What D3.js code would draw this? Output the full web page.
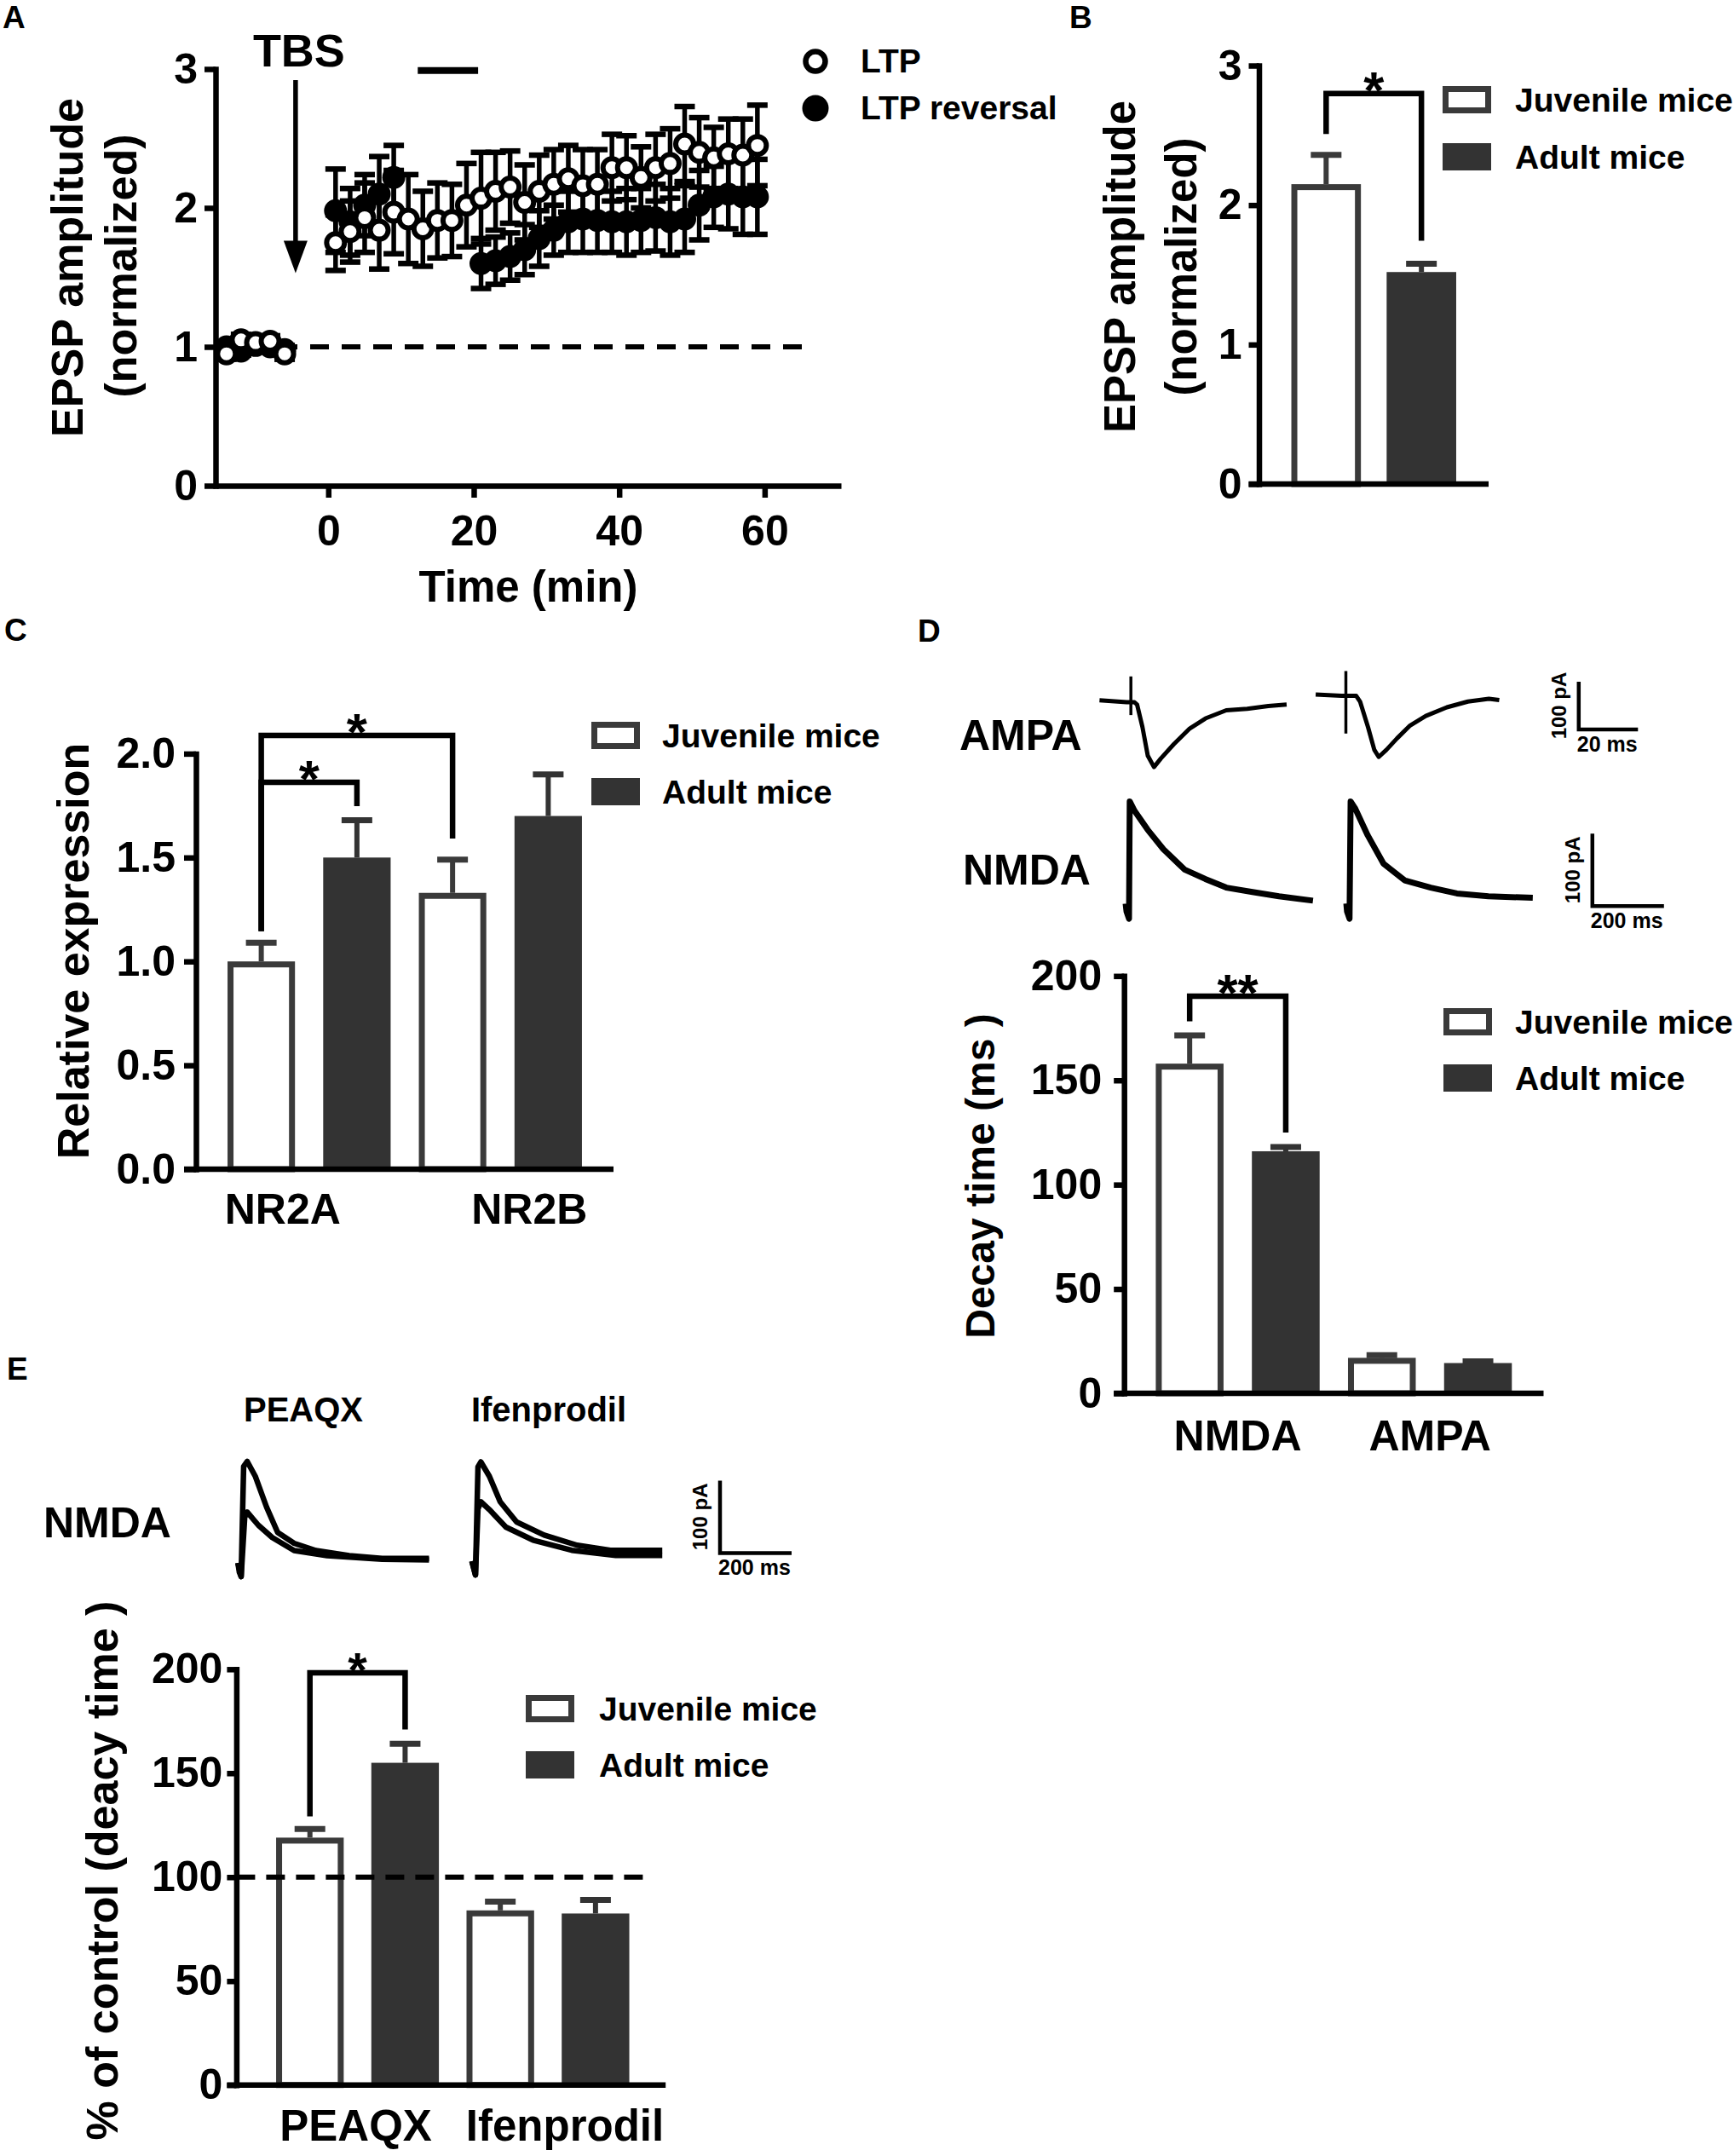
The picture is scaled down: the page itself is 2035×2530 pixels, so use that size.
<!DOCTYPE html>
<html>
<head>
<meta charset="utf-8">
<script src="https://cdn.jsdelivr.net/npm/d3@7"></script>
<style>
body { margin: 0; background: #fff; }
svg text { font-family: "Liberation Sans", Arial, sans-serif; font-weight: bold; }
</style>
</head>
<body>
<div id="chart-area"></div>
<script>
// ---------- data ----------
var seriesNames = ["Juvenile mice", "Adult mice"];

// A: EPSP time course (min, normalized amplitude, SEM)
var ltpTime = [-14, -12, -10, -8, -6, 1, 3, 5, 7, 9, 11, 13, 15, 17, 19, 21, 23, 25, 27, 29, 31, 33, 35, 37, 39, 41, 43, 45, 47, 49, 51, 53, 55, 57, 59];
var ltpValue = [0.95, 1.05, 1.03, 1.04, 0.95, 1.75, 1.83, 1.93, 1.84, 1.97, 1.92, 1.85, 1.91, 1.91, 2.02, 2.07, 2.12, 2.15, 2.04, 2.12, 2.17, 2.21, 2.16, 2.17, 2.29, 2.29, 2.22, 2.29, 2.32, 2.46, 2.40, 2.36, 2.39, 2.38, 2.45];
var ltpErr = [0.04, 0.04, 0.03, 0.04, 0.04, 0.20, 0.22, 0.25, 0.28, 0.30, 0.32, 0.27, 0.27, 0.26, 0.30, 0.33, 0.28, 0.26, 0.27, 0.26, 0.25, 0.24, 0.26, 0.25, 0.24, 0.23, 0.22, 0.24, 0.25, 0.27, 0.25, 0.22, 0.25, 0.26, 0.29];
var revTime = [-14, -12, -10, -8, -6, 1, 3, 5, 7, 9, 21, 23, 25, 27, 29, 31, 33, 35, 37, 39, 41, 43, 45, 47, 49, 51, 53, 55, 57, 59];
var revValue = [1.00, 0.97, 1.01, 1.00, 0.98, 1.98, 1.90, 2.02, 2.10, 2.22, 1.60, 1.62, 1.65, 1.70, 1.78, 1.84, 1.90, 1.92, 1.91, 1.90, 1.90, 1.91, 1.93, 1.90, 1.92, 2.02, 2.08, 2.10, 2.08, 2.08];
var revErr = [0.03, 0.03, 0.03, 0.03, 0.03, 0.30, 0.24, 0.22, 0.27, 0.23, 0.18, 0.17, 0.17, 0.18, 0.20, 0.18, 0.22, 0.24, 0.23, 0.22, 0.24, 0.23, 0.24, 0.24, 0.24, 0.25, 0.22, 0.25, 0.27, 0.27];
var reversalWindow = [12.3, 20.6];
var tbsTime = -4.5;

// B: EPSP amplitude at 60 min
var bValues = [2.15, 1.52];
var bErrors = [0.21, 0.06];

// C: relative expression
var cGenes = ["NR2A", "NR2B"];
var cJuvenile = [1.00, 1.33];
var cAdult = [1.50, 1.70];
var cJuvenileErr = [0.09, 0.16];
var cAdultErr = [0.18, 0.20];

// D: decay time (ms)
var dCurrents = ["NMDA", "AMPA"];
var dJuvenile = [158, 17];
var dAdult = [116, 14.5];
var dJuvenileErr = [13.5, 1.3];
var dAdultErr = [2.0, 0.8];

// E: % of control decay time
var eDrugs = ["PEAQX", "Ifenprodil"];
var eJuvenile = [119, 84];
var eAdult = [155, 82.5];
var eJuvenileErr = [4.2, 4.2];
var eAdultErr = [9.2, 6.5];

// example traces (ms from stimulus, pA)
var ampaJuvT = [-10.6, -1.4, 1.2, 2.1, 3.9, 5.7, 7.8, 10.1, 14.5, 19.9, 25.2, 32.2, 39.3, 46.4, 52.6];
var ampaJuvI = [4, 0, 0, -5, -52, -112, -136, -118, -88, -55, -34, -17, -14, -8, -5];
var ampaAdultT = [-10.2, -1.4, 3.5, 4.8, 7.5, 9.6, 11.1, 13.7, 17.3, 21.7, 27.0, 34.1, 41.2, 48.3, 51.8];
var ampaAdultI = [2, -1, -1, -13, -67, -114, -129, -114, -90, -63, -43, -25, -13, -7, -10];
var ampaArtifact = [[54, -27], [51, -80]];
var nmdaJuvT = [-9.5, -7, 0, 2, 15.5, 52, 96, 155, 213, 272, 345, 419, 514];
var nmdaJuvI = [2, -9, -19, 143, 130, 104, 77, 49, 36, 24, 18, 12, 6];
var nmdaAdultT = [-9, -7, 0, 3, 15, 51, 95, 154, 227, 300, 388, 512];
var nmdaAdultI = [2, -9, -19, 143, 134, 96, 57, 34, 24, 16, 12, 10];
var peaqxAT = [-9, -5, 0, 7, 17, 40, 71, 102, 148, 209, 302, 394, 525];
var peaqxAI = [-7, -20, -26, 126, 133, 112, 70, 35, 20, 10, 3, -1, -1];
var peaqxBT = [-9, 0, 10, 17, 48, 87, 148, 240, 394, 525];
var peaqxBI = [-7, -26, 56, 63, 45, 28, 10, 3, -2, -3];
var ifenAT = [-10, 0, 7, 15, 39, 69, 115, 192, 284, 377, 522];
var ifenAI = [-7, -26, 123, 130, 110, 75, 47, 29, 15, 8, 8];
var ifenBT = [-10, 0, 7, 15, 39, 85, 161, 269, 392, 522];
var ifenBI = [-7, -26, 65, 75, 64, 40, 22, 8, 1, 1];

// ---------- setup ----------
var svg = d3.select("#chart-area").append("svg")
    .attr("width", 2035).attr("height", 2530)
    .style("background", "#fff");

var dark = "#333333", edge = "#3a3a3a", AXW = 6.5;

function styleAxis(g, fs) {
    g.attr("font-family", null).attr("font-size", null);
    g.select(".domain").attr("stroke", "#000").attr("stroke-width", AXW).attr("stroke-linecap", "square");
    g.selectAll(".tick line").attr("stroke", "#000").attr("stroke-width", AXW);
    g.selectAll(".tick text").attr("fill", "#000").attr("font-size", fs);
}

function label(text, x, y, fs, anchor) {
    return svg.append("text").attr("x", x).attr("y", y)
        .attr("font-size", fs).attr("text-anchor", anchor || "start").text(text);
}

function vlabel(text, x, y, fs) {
    return svg.append("text").attr("transform", "translate(" + x + "," + y + ") rotate(-90)")
        .attr("font-size", fs).attr("text-anchor", "middle").text(text);
}

function legendBars(x, y1, y2, tx) {
    svg.append("rect").attr("x", x + 3.5).attr("y", y1 + 3.5).attr("width", 50).attr("height", 25)
        .attr("fill", "#fff").attr("stroke", edge).attr("stroke-width", 7);
    svg.append("rect").attr("x", x).attr("y", y2).attr("width", 57).attr("height", 32).attr("fill", dark);
    label(seriesNames[0], tx, y1 + 30, 39);
    label(seriesNames[1], tx, y2 + 30, 39);
}

function star(text, x, yTop, fs) {
    label(text, x, yTop + 17, fs || 62, "middle");
}

// generic bar chart: rows = [{key, series, v, e}]
function barChart(cfg) {
    var y = d3.scaleLinear().domain(cfg.yDomain).range(cfg.yRange);
    var x = d3.scaleBand().domain(cfg.rows.map(function(d){ return d.key; }))
        .range(cfg.bandRange).paddingInner(cfg.pi).paddingOuter(cfg.po);

    var gy = svg.append("g").attr("transform", "translate(" + cfg.axisX + ",0)")
        .call(d3.axisLeft(y).tickValues(cfg.ticks).tickFormat(cfg.fmt)
            .tickSize(cfg.tickLen).tickSizeOuter(0).tickPadding(cfg.pad));
    styleAxis(gy, 50);

    cfg.rows.forEach(function(d) {
        var cx = x(d.key) + x.bandwidth() / 2;
        var col = d.series === 0 ? edge : dark;
        // error bar (upper only)
        svg.append("line").attr("x1", cx).attr("x2", cx)
            .attr("y1", y(d.v)).attr("y2", y(d.v + d.e))
            .attr("stroke", col).attr("stroke-width", 6);
        svg.append("line").attr("x1", cx - 18).attr("x2", cx + 18)
            .attr("y1", y(d.v + d.e)).attr("y2", y(d.v + d.e))
            .attr("stroke", col).attr("stroke-width", 7);
        if (d.series === 0) {
            svg.append("rect").attr("x", x(d.key) + 3.5).attr("y", y(d.v) + 3.5)
                .attr("width", x.bandwidth() - 7).attr("height", y(0) - y(d.v) - 3.5)
                .attr("fill", "#fff").attr("stroke", edge).attr("stroke-width", 7);
        } else {
            svg.append("rect").attr("x", x(d.key)).attr("y", y(d.v))
                .attr("width", x.bandwidth()).attr("height", y(0) - y(d.v))
                .attr("fill", dark);
        }
    });
    // x axis line over bar bottoms
    svg.append("line").attr("x1", cfg.axisX - cfg.tickLen).attr("x2", cfg.axisEnd)
        .attr("y1", y(0)).attr("y2", y(0)).attr("stroke", "#000").attr("stroke-width", AXW);

    var cx = function(key) { return x(key) + x.bandwidth() / 2; };
    (cfg.brackets || []).forEach(function(b) {
        var x1 = cx(b.from), x2 = cx(b.to);
        svg.append("path")
            .attr("d", "M" + x1 + "," + y(b.leftEnd) + "V" + y(b.top) + "H" + x2 + "V" + y(b.rightEnd))
            .attr("fill", "none").attr("stroke", "#000").attr("stroke-width", 6.5);
        star(b.text, (x1 + x2) / 2, y(b.top), b.fs);
    });
    return {x: x, y: y, cx: cx};
}

function rowsOf(groups, juv, adult, juvErr, adultErr) {
    var rows = [];
    groups.forEach(function(g, i) {
        rows.push({key: g + "|0", group: g, series: 0, v: juv[i], e: juvErr[i]});
        rows.push({key: g + "|1", group: g, series: 1, v: adult[i], e: adultErr[i]});
    });
    return rows;
}

// ---------- panel letters ----------
label("A", 3, 33, 37);
label("B", 1255, 33, 37);
label("C", 5, 752, 37);
label("D", 1077, 753, 37);
label("E", 8, 1619, 37);

// ---------- A ----------
var xA = d3.scaleLinear().domain([-15.5, 70.5]).range([253, 987]);
var yA = d3.scaleLinear().domain([0, 3]).range([570, 81]);

var gAy = svg.append("g").attr("transform", "translate(253,0)")
    .call(d3.axisLeft(yA).tickValues([0, 1, 2, 3]).tickFormat(d3.format("d"))
        .tickSize(13).tickSizeOuter(0).tickPadding(8));
styleAxis(gAy, 50);
var gAx = svg.append("g").attr("transform", "translate(0,570)")
    .call(d3.axisBottom(xA).tickValues([0, 20, 40, 60]).tickFormat(d3.format("d"))
        .tickSize(14).tickSizeOuter(0).tickPadding(20));
styleAxis(gAx, 50);
gAx.select(".domain").attr("stroke-linecap", "butt");

// baseline reference
svg.append("line").attr("x1", xA(-15.5)).attr("x2", xA(66.5))
    .attr("y1", yA(1)).attr("y2", yA(1))
    .attr("stroke", "#000").attr("stroke-width", 6).attr("stroke-dasharray", "22,15");

// reversal stimulation bar
svg.append("line").attr("x1", xA(reversalWindow[0])).attr("x2", xA(reversalWindow[1]))
    .attr("y1", yA(2.99)).attr("y2", yA(2.99)).attr("stroke", "#000").attr("stroke-width", 8);

// TBS arrow
label("TBS", xA(tbsTime) + 4, 78, 54, "middle");
svg.append("line").attr("x1", xA(tbsTime)).attr("x2", xA(tbsTime))
    .attr("y1", 94).attr("y2", yA(1.53) - 30).attr("stroke", "#000").attr("stroke-width", 5.5);
svg.append("path")
    .attr("d", "M" + (xA(tbsTime) - 14) + "," + (yA(1.53) - 38) + "L" + (xA(tbsTime) + 14) + "," + (yA(1.53) - 38) +
        "L" + xA(tbsTime) + "," + yA(1.53) + "Z")
    .attr("fill", "#000");

function timeCourse(times, vals, errs, filled) {
    var pts = times.map(function(t, i) { return {t: t, v: vals[i], e: errs[i]}; });
    var g = svg.append("g");
    pts.forEach(function(d) {
        var cxp = xA(d.t);
        g.append("line").attr("x1", cxp).attr("x2", cxp)
            .attr("y1", yA(d.v - d.e)).attr("y2", yA(d.v + d.e))
            .attr("stroke", "#000").attr("stroke-width", 5.5);
        [d.v - d.e, d.v + d.e].forEach(function(c) {
            g.append("line").attr("x1", cxp - 12).attr("x2", cxp + 12)
                .attr("y1", yA(c)).attr("y2", yA(c))
                .attr("stroke", "#000").attr("stroke-width", 6.5);
        });
    });
    g.selectAll("circle").data(pts).enter().append("circle")
        .attr("cx", function(d) { return xA(d.t); })
        .attr("cy", function(d) { return yA(d.v); })
        .attr("r", filled ? 13.5 : 10.5)
        .attr("fill", filled ? "#000" : "#fff")
        .attr("stroke", "#000").attr("stroke-width", filled ? 0 : 6);
}
timeCourse(revTime, revValue, revErr, true);
timeCourse(ltpTime, ltpValue, ltpErr, false);

// legend A
svg.append("circle").attr("cx", 957).attr("cy", 72).attr("r", 11.5)
    .attr("fill", "#fff").attr("stroke", "#000").attr("stroke-width", 6.5);
svg.append("circle").attr("cx", 957).attr("cy", 127).attr("r", 15.5).attr("fill", "#000");
label("LTP", 1010, 85, 39);
label("LTP reversal", 1010, 140, 39);

vlabel("EPSP amplitude", 97, 314, 52);
vlabel("(normalized)", 160, 312, 52);
label("Time (min)", 620, 706, 51, "middle");

// ---------- B ----------
var bRows = bValues.map(function(v, i) { return {key: seriesNames[i], series: i, v: v, e: bErrors[i]}; });
barChart({
    rows: bRows, yDomain: [0, 3], yRange: [568, 77], ticks: [0, 1, 2, 3], fmt: d3.format("d"),
    axisX: 1477.5, axisEnd: 1747, bandRange: [1477.5, 1747], pi: 0.27, po: 0.34,
    tickLen: 12, pad: 8,
    brackets: [{from: seriesNames[0], to: seriesNames[1], top: 2.80, leftEnd: 2.51, rightEnd: 1.745, text: "*"}]
});
vlabel("EPSP amplitude", 1332, 313, 51);
vlabel("(normalized)", 1404, 313, 51);
legendBars(1693, 101, 168, 1778);

// ---------- C ----------
var cRows = rowsOf(cGenes, cJuvenile, cAdult, cJuvenileErr, cAdultErr);
var cChart = barChart({
    rows: cRows, yDomain: [0, 2], yRange: [1372, 884.4], ticks: [0, 0.5, 1, 1.5, 2], fmt: d3.format(".1f"),
    axisX: 230, axisEnd: 720, bandRange: [230, 720], pi: 0.295, po: 0.33,
    tickLen: 14, pad: 10,
    brackets: [
        {from: "NR2A|0", to: "NR2B|0", top: 2.088, leftEnd: 1.145, rightEnd: 1.591, text: "*"},
        {from: "NR2A|0", to: "NR2A|1", top: 1.862, leftEnd: 1.145, rightEnd: 1.747, text: "*"}
    ]
});
var cLabelShift = [-31, 34];
cGenes.forEach(function(g, i) {
    var gc = (cChart.cx(g + "|0") + cChart.cx(g + "|1")) / 2;
    label(g, gc + cLabelShift[i], 1436, 50, "middle");
});
vlabel("Relative expression", 104, 1116, 52);
legendBars(694, 847, 913, 777);

// ---------- D ----------
var dRows = rowsOf(dCurrents, dJuvenile, dAdult, dJuvenileErr, dAdultErr);
var dChart = barChart({
    rows: dRows, yDomain: [0, 200], yRange: [1635, 1145.3], ticks: [0, 50, 100, 150, 200], fmt: d3.format("d"),
    axisX: 1319.2, axisEnd: 1811.5, bandRange: [1319.2, 1811.5], pi: 0.295, po: 0.33,
    tickLen: 12, pad: 14,
    brackets: [{from: "NMDA|0", to: "NMDA|1", top: 190.3, leftEnd: 178.3, rightEnd: 125, text: "**"}]
});
dCurrents.forEach(function(g) {
    var gc = (dChart.cx(g + "|0") + dChart.cx(g + "|1")) / 2;
    label(g, gc, 1702, 50, "middle");
});
vlabel("Decay time (ms )", 1167, 1380, 48);
legendBars(1694, 1183, 1249, 1778);

// ---------- E ----------
var eRows = rowsOf(eDrugs, eJuvenile, eAdult, eJuvenileErr, eAdultErr);
var eChart = barChart({
    rows: eRows, yDomain: [0, 200], yRange: [2446.7, 1958.8], ticks: [0, 50, 100, 150, 200], fmt: d3.format("d"),
    axisX: 277.4, axisEnd: 781.2, bandRange: [281.6, 781], pi: 0.29, po: 0.38,
    tickLen: 11, pad: 5,
    brackets: [{from: "PEAQX|0", to: "PEAQX|1", top: 198.3, leftEnd: 129.2, rightEnd: 171, text: "*", fs: 58}]
});
svg.append("line").attr("x1", 277.4).attr("x2", 762)
    .attr("y1", eChart.y(100)).attr("y2", eChart.y(100))
    .attr("stroke", "#000").attr("stroke-width", 6).attr("stroke-dasharray", "22,13");
var eLabelShift = [-2, 20];
eDrugs.forEach(function(g, i) {
    var gc = (eChart.cx(g + "|0") + eChart.cx(g + "|1")) / 2;
    label(g, gc + eLabelShift[i], 2512, 51, "middle");
});
vlabel("% of control (deacy time )", 138, 2195, 52);
legendBars(617, 1989, 2055, 703);

// ---------- traces ----------
var ampaT = d3.scaleLinear().domain([0, 20]).range([0, 69.5]);
var ampaI = d3.scaleLinear().domain([0, 100]).range([0, -56]);
var nmdaT = d3.scaleLinear().domain([0, 200]).range([0, 84]);
var nmdaI = d3.scaleLinear().domain([0, 100]).range([0, -85]);

function trace(ts, is, sx, sy, ox, oy, w) {
    var pts = ts.map(function(t, i) { return [t, is[i]]; });
    var line = d3.line().x(function(d) { return sx(d[0]); }).y(function(d) { return sy(d[1]); });
    svg.append("path").attr("transform", "translate(" + ox + "," + oy + ")")
        .attr("d", line(pts)).attr("fill", "none").attr("stroke", "#000")
        .attr("stroke-width", w).attr("stroke-linejoin", "round");
}

function scaleBar(ox, oy, sx, sy, tLen, iLen, tText, iText) {
    svg.append("path")
        .attr("d", "M" + ox + "," + (oy + sy(iLen)) + "V" + oy + "H" + (ox + sx(tLen)))
        .attr("fill", "none").attr("stroke", "#000").attr("stroke-width", 4.5);
    label(tText, ox - 2, oy + 26, 25);
    vlabel(iText, ox - 15, oy + sy(iLen) / 2, 24);
}

// D traces
label("AMPA", 1126, 880, 50);
label("NMDA", 1130, 1038, 50);
trace(ampaJuvT, ampaJuvI, ampaT, ampaI, 1327.2, 824, 5);
trace(ampaAdultT, ampaAdultI, ampaT, ampaI, 1579.5, 816, 5);
[[1327.2, 824], [1579.5, 816]].forEach(function(o, i) {
    svg.append("line").attr("x1", o[0]).attr("x2", o[0])
        .attr("y1", o[1] + ampaI(ampaArtifact[i][0])).attr("y2", o[1] + ampaI(ampaArtifact[i][1]))
        .attr("stroke", "#000").attr("stroke-width", 3.5);
});
trace(nmdaJuvT, nmdaJuvI, nmdaT, nmdaI, 1325, 1062, 7);
trace(nmdaAdultT, nmdaAdultI, nmdaT, nmdaI, 1583.8, 1062, 7);
scaleBar(1852.8, 856, ampaT, ampaI, 20, 100, "20 ms", "100 pA");
scaleBar(1868.8, 1063.3, nmdaT, nmdaI, 200, 100, "200 ms", "100 pA");

// E traces
label("PEAQX", 356, 1668, 40, "middle");
label("Ifenprodil", 644, 1668, 40, "middle");
label("NMDA", 51, 1804, 50);
trace(peaqxAT, peaqxAI, nmdaT, nmdaI, 283, 1828, 6.5);
trace(peaqxBT, peaqxBI, nmdaT, nmdaI, 283, 1828, 6.5);
trace(ifenAT, ifenAI, nmdaT, nmdaI, 558, 1826, 6.5);
trace(ifenBT, ifenBI, nmdaT, nmdaI, 558, 1826, 6.5);
scaleBar(845, 1822.4, nmdaT, nmdaI, 200, 100, "200 ms", "100 pA");
</script>
</body>
</html>
